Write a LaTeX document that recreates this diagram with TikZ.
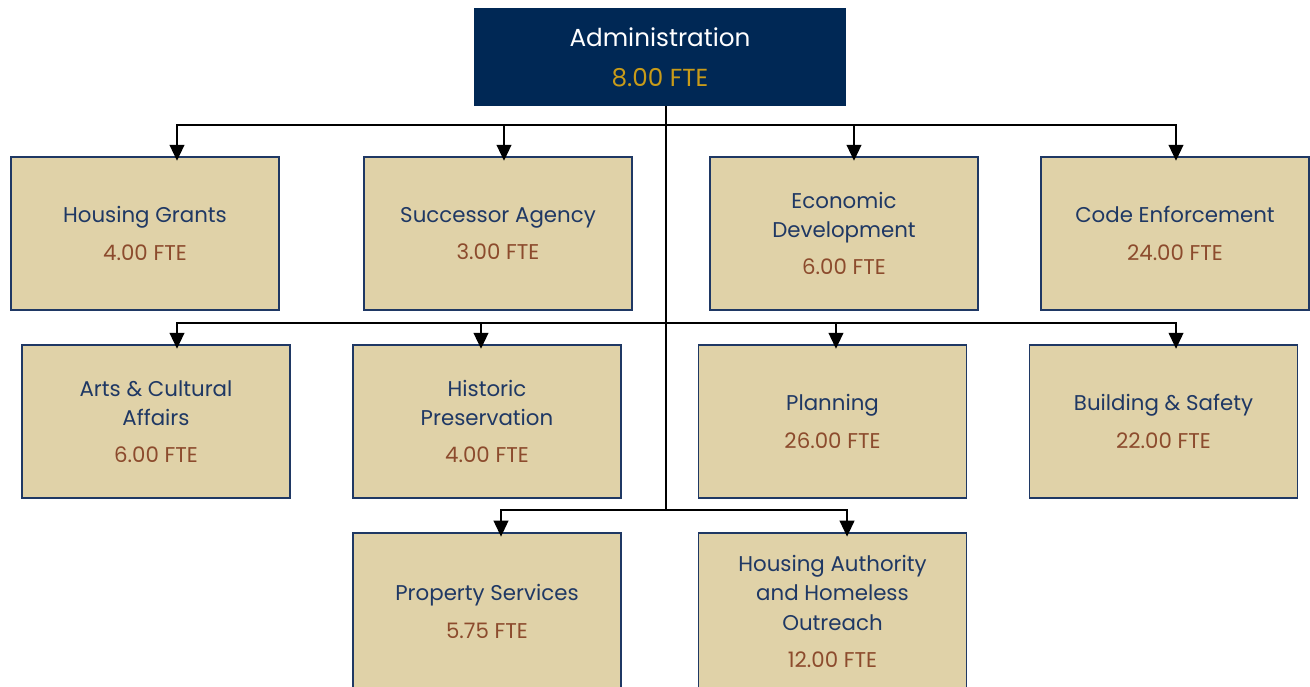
\documentclass[tikz,border=0pt]{standalone}
\usepackage{fontspec}
\setmainfont{Poppins}
\usepackage{xcolor}
\usetikzlibrary{arrows.meta,positioning}
\definecolor{adminfill}{RGB}{0,40,85}
\definecolor{admingold}{RGB}{200,155,25}
\definecolor{unitfill}{RGB}{224,210,168}
\definecolor{unitblue}{RGB}{31,56,100}
\definecolor{ftebrown}{RGB}{140,75,45}
\newcommand{\ftecount}[1]{\textcolor{ftebrown}{#1 FTE}}

\begin{document}
\begin{tikzpicture}[x=0.75pt,y=-0.75pt,font=\fontsize{16}{22}\selectfont,
  unit/.style={draw=unitblue,fill=unitfill,line width=1.3pt,minimum width=201pt,minimum height=114.75pt,align=center,text=unitblue,inner sep=0pt},
  link/.style={line width=1.5pt},
  arr/.style={link,-{Triangle[length=12pt,width=11pt]},shorten >=-3.5pt}]
    \useasboundingbox (0,0) rectangle (1310,686);
    % top box and the units in three rows
    \node[fill=adminfill,minimum width=279pt,minimum height=73.5pt,align=center,text=white,inner sep=0pt,font=\fontsize{18.5}{24}\selectfont] at (660,57) (admin) {Administration\\[6pt]\textcolor{admingold}{8.00 FTE}};
    \node[unit] at (145,233.5) (hg) {Housing Grants\\[6pt]\ftecount{4.00}};
    \node[unit] at (498,233.5) (sa) {Successor Agency\\[6pt]\ftecount{3.00}};
    \node[unit] at (844,233.5) (ed) {Economic\\Development\\[6pt]\ftecount{6.00}};
    \node[unit] at (1175,233.5) (ce) {Code Enforcement\\[6pt]\ftecount{24.00}};
    \node[unit] at (156,421.5) (arts) {Arts \& Cultural\\Affairs\\[6pt]\ftecount{6.00}};
    \node[unit] at (487,421.5) (hist) {Historic\\Preservation\\[6pt]\ftecount{4.00}};
    \node[unit] at (832.5,421.5) (plan) {Planning\\[6pt]\ftecount{26.00}};
    \node[unit] at (1163.5,421.5) (bld) {Building \& Safety\\[6pt]\ftecount{22.00}};
    \node[unit,minimum height=118pt] at (487,611.5) (prop) {Property Services\\[6pt]\ftecount{5.75}};
    \node[unit,minimum height=118pt] at (832.5,611.5) (hha) {Housing Authority\\and Homeless\\Outreach\\[6pt]\ftecount{12.00}};

    \coordinate (j1) at (666,125);
    \coordinate (j2) at (666,323);
    \coordinate (j3) at (666,510);
    \draw[link] (admin.south -| j1) -- (j3);
    \foreach \n/\dx in {hg/24,sa/4.5,ed/7.5,ce/0.75}
        \draw[arr] (j1) -| ([xshift=\dx pt]\n.north);
    \foreach \n/\dx in {arts/15.75,hist/-4.5,plan/2.6,bld/9.4}
        \draw[arr] (j2) -| ([xshift=\dx pt]\n.north);
    \foreach \n/\dx in {prop/10.5,hha/10.9}
        \draw[arr] (j3) -| ([xshift=\dx pt]\n.north);
\end{tikzpicture}
\end{document}
